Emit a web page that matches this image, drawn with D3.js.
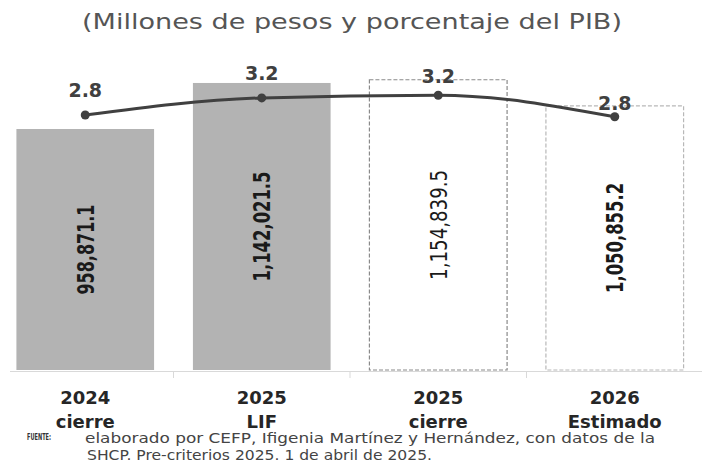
<!DOCTYPE html>
<html>
<head>
<meta charset="utf-8">
<script src="https://cdn.jsdelivr.net/npm/d3@7"></script>
<style>
  body { margin: 0; background: #fff; }
  svg { display: block; }
</style>
</head>
<body>
<script>
//Variables
    const width = 704;
    const height = 466;

//Data
    const years = ["2024", "2025", "2025", "2026"];
    const stages = ["cierre", "LIF", "cierre", "Estimado"];
    const amounts = [958871.1, 1142021.5, 1154839.5, 1050855.2];
    const pibShare = [2.8, 3.18, 3.24, 2.76];
    const barKinds = ["solid", "solid", "dashed", "dashed"];
    const title = "(Millones de pesos y porcentaje del PIB)";
    const noteLines = [
        "elaborado por CEFP,  Ifigenia Martínez y Hernández, con datos de la",
        "SHCP. Pre-criterios 2025. 1 de abril de 2025."
    ];

//Svg creation
    const svg = d3.select("body")
                    .append("svg")
                    .attr("width", width)
                    .attr("height", height);

    const idx = d3.range(years.length);

//Scales
    const x = d3.scaleBand()
                .domain(idx)
                .range([-3, 703])
                .paddingInner(0.22)
                .paddingOuter(0.11);

    const y = d3.scaleLinear()
                .domain([0, 1200000])
                .range([370, 68.4]);

    const y2 = d3.scaleLinear()
                .domain([0, 4])
                .range([241, 61]);

//Title
    svg.append("text")
        .attr("x", 82)
        .attr("y", 29)
        .attr("textLength", 540)
        .attr("lengthAdjust", "spacingAndGlyphs")
        .style("font-family", "DejaVu Sans")
        .style("font-size", "21px")
        .style("fill", "#555")
        .text(title);

//Bars
    svg.selectAll("rect.bar")
        .data(idx)
        .join("rect")
        .attr("class", "bar")
        .attr("x", i => x(i))
        .attr("y", i => y(amounts[i]))
        .attr("width", x.bandwidth())
        .attr("height", i => y(0) - y(amounts[i]))
        .style("fill", i => barKinds[i] === "solid" ? "#b3b3b3" : "#fff")
        .style("stroke", i => barKinds[i] === "solid" ? "none" : (i === 2 ? "#8a8a8a" : "#b8b8b8"))
        .style("stroke-width", 1.2)
        .style("stroke-dasharray", "4,2");

//Axis
    const xAxis = svg.append("g");
    xAxis.append("line")
        .attr("x1", 10).attr("x2", 702)
        .attr("y1", 371.5).attr("y2", 371.5)
        .style("stroke", "#d9d9d9")
        .style("stroke-width", 1);

    xAxis.selectAll("line.tick")
        .data(idx.slice(1))
        .join("line")
        .attr("class", "tick")
        .attr("x1", i => x(i) - x.step() * x.paddingInner() / 2)
        .attr("x2", i => x(i) - x.step() * x.paddingInner() / 2)
        .attr("y1", 371.5).attr("y2", 378)
        .style("stroke", "#d9d9d9");

//Category labels
    const cat = svg.selectAll("g.cat")
        .data(idx)
        .join("g")
        .attr("class", "cat")
        .attr("transform", i => `translate(${x(i) + x.bandwidth() / 2},0)`)
        .style("font-family", "DejaVu Sans")
        .style("font-weight", "bold")
        .style("font-size", "18px")
        .style("fill", "#262626")
        .attr("text-anchor", "middle");

    cat.append("text").attr("y", 404).text(i => years[i]);
    cat.append("text").attr("y", 428).text(i => stages[i]);

//Bar value labels
    svg.selectAll("text.val")
        .data(idx)
        .join("text")
        .attr("class", "val")
        .attr("transform", i => `translate(${x(i) + x.bandwidth() / 2},${(y(amounts[i]) + y(0)) / 2}) rotate(-90)`)
        .attr("text-anchor", "middle")
        .attr("dy", "0.36em")
        .attr("textLength", i => d3.format(",.1f")(amounts[i]).length * 10)
        .attr("lengthAdjust", "spacingAndGlyphs")
        .style("font-family", "'DejaVu Sans Condensed', 'DejaVu Sans', sans-serif")
        .style("font-weight", i => i === 2 ? "normal" : "bold")
        .style("font-size", "23px")
        .style("fill", "#1a1a1a")
        .text(i => d3.format(",.1f")(amounts[i]));

//Line
    const line = d3.line()
        .x(i => x(i) + x.bandwidth() / 2)
        .y(i => y2(pibShare[i]))
        .curve(d3.curveMonotoneX);

    svg.append("path")
        .datum(idx)
        .attr("d", line)
        .style("fill", "none")
        .style("stroke", "#404040")
        .style("stroke-width", 3);

    svg.selectAll("circle.pt")
        .data(idx)
        .join("circle")
        .attr("class", "pt")
        .attr("cx", i => x(i) + x.bandwidth() / 2)
        .attr("cy", i => y2(pibShare[i]))
        .attr("r", 4.5)
        .style("fill", "#404040");

    const labelDy = [-18, -18, -12, -7];
    svg.selectAll("text.pct")
        .data(idx)
        .join("text")
        .attr("class", "pct")
        .attr("x", i => x(i) + x.bandwidth() / 2)
        .attr("y", i => y2(pibShare[i]) + labelDy[i])
        .attr("text-anchor", "middle")
        .style("font-family", "DejaVu Sans")
        .style("font-weight", "bold")
        .style("font-size", "19px")
        .style("fill", "#404040")
        .text(i => d3.format(".1f")(pibShare[i]));

//Source note
    svg.append("text")
        .attr("x", 27)
        .attr("y", 440)
        .attr("textLength", 24)
        .attr("lengthAdjust", "spacingAndGlyphs")
        .style("font-family", "DejaVu Sans")
        .style("font-weight", "bold")
        .style("font-size", "8.5px")
        .style("fill", "#333")
        .text("FUENTE:");

    svg.selectAll("text.note")
        .data(noteLines)
        .join("text")
        .attr("class", "note")
        .attr("x", (d, i) => i === 0 ? 85 : 87)
        .attr("y", (d, i) => 443 + i * 17)
        .attr("textLength", (d, i) => i === 0 ? 570 : 345)
        .attr("lengthAdjust", "spacingAndGlyphs")
        .style("font-family", "DejaVu Sans")
        .style("font-size", "14px")
        .style("fill", "#444")
        .text(d => d);
</script>
</body>
</html>
